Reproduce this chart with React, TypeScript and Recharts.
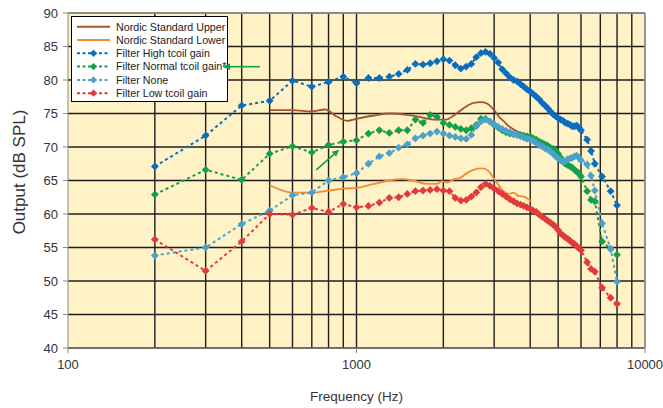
import React from "react";
import {
  LineChart,
  Line,
  XAxis,
  YAxis,
  CartesianGrid,
  ReferenceLine,
  Legend,
  Label,
} from "recharts";

// Measured curves share one frequency list (Hz)
const FREQS = [
  200, 300, 400, 500, 600, 700, 800, 900,
  1000, 1100, 1200, 1300, 1400, 1500, 1600, 1700, 1800, 1900,
  2000, 2100, 2200, 2300, 2400, 2500, 2600, 2700, 2800, 2900,
  3000, 3100, 3200, 3300, 3400, 3500, 3600, 3700, 3800, 3900,
  4000, 4100, 4200, 4300, 4400, 4500, 4600, 4700, 4800, 4900,
  5000, 5100, 5200, 5300, 5400, 5500, 5600, 5700, 5800, 5900,
  6000, 6300, 6500, 6700, 7100, 7600, 8000,
];

const HIGH = [
  67.1, 71.7, 76.2, 76.9, 79.9, 79.0, 79.7, 80.5,
  79.5, 80.3, 80.3, 80.5, 80.9, 81.5, 82.4, 82.3, 82.5, 82.8,
  83.1, 82.9, 82.2, 81.7, 82.0, 82.4, 83.4, 84.0, 84.2, 83.9,
  83.3, 82.6, 81.6, 81.0, 80.4, 80.0, 79.8, 79.4, 79.0, 78.6,
  78.3, 77.9, 77.5, 77.1, 76.6, 76.2, 75.8, 75.3, 74.9, 74.6,
  74.3, 74.1, 73.9, 73.6, 73.5, 73.3, 73.1, 73.1, 73.2, 72.9,
  72.5, 71.1, 69.4, 67.5, 65.6, 63.4, 61.3,
];

const NORMAL = [
  62.9, 66.6, 65.1, 69.0, 70.1, 69.2, 70.3, 70.8,
  71.0, 72.0, 72.5, 72.1, 72.5, 72.5, 74.1, 73.6, 74.8, 74.5,
  73.6, 73.3, 73.0, 72.7, 72.5, 72.8, 73.3, 74.2, 74.2, 73.8,
  73.3, 72.9, 72.5, 72.2, 72.0, 71.9, 71.8, 71.8, 71.7, 71.6,
  71.6, 71.3, 71.1, 70.8, 70.6, 70.4, 70.2, 69.9, 69.7, 69.4,
  69.0, 68.4, 67.8, 67.5, 67.3, 67.1, 66.9, 66.6, 66.3, 66.1,
  65.6, 63.4, 62.1, 61.9, 55.9, 54.8, 53.9,
];

const NONE = [
  53.8, 55.0, 58.5, 60.5, 62.8, 63.2, 65.0, 65.5,
  66.1, 67.5, 68.6, 69.1, 69.9, 70.4, 71.3, 71.7, 72.0, 72.3,
  72.0, 71.7, 71.5, 71.3, 71.2, 71.8, 73.1, 73.8, 74.1, 73.8,
  73.4, 73.0, 72.7, 72.4, 72.2, 72.0, 71.8, 71.6, 71.4, 71.2,
  71.1, 70.9, 70.6, 70.3, 70.1, 69.8, 69.6, 69.3, 69.0, 68.6,
  68.3, 68.0, 67.8, 67.9, 68.2, 68.3, 68.4, 68.6, 68.7, 68.4,
  68.0, 67.4, 65.7, 63.5, 58.6, 54.8, 49.9,
];

const LOW = [
  56.2, 51.5, 55.9, 60.0, 59.9, 60.9, 60.3, 61.5,
  61.0, 61.2, 61.7, 62.4, 62.5, 63.0, 63.4, 63.5, 63.6, 63.7,
  63.5, 63.4, 62.4, 62.0, 62.1, 62.6, 63.2, 64.0, 64.5, 64.2,
  63.8, 63.4, 63.0, 62.6, 62.2, 61.9, 61.6, 61.4, 61.2, 61.0,
  60.8, 60.5, 60.3, 59.9, 59.6, 59.3, 59.0, 58.7, 58.4, 58.1,
  57.6, 57.1, 56.8, 56.5, 56.3, 56.0, 55.7, 55.5, 55.2, 54.9,
  54.6, 52.8, 51.8, 51.4, 49.0, 47.5, 46.6,
];

// Nordic standard limits
const UPPER_FREQS = [
  500, 600, 700, 780, 850, 930, 1000, 1150, 1300, 1500, 1650, 1850, 2050,
  2175, 2350, 2550, 2700, 2830, 3000, 3150, 3250, 3330, 3450, 3700, 4000,
];
const UPPER = [
  75.5, 75.5, 75.3, 75.6, 74.6, 73.9, 74.2, 74.7, 75.0, 74.8, 74.5, 74.1, 74.1,
  74.7, 75.8, 76.6, 76.7, 76.5, 75.5, 74.3, 73.8, 73.3, 72.8, 72.1, 71.6,
];

const LOWER_FREQS = [
  500, 600, 700, 800, 900, 1000, 1150, 1300, 1420, 1570, 1750, 1900, 1980,
  2060, 2180, 2290, 2410, 2540, 2730, 2870, 2980, 3100, 3230, 3370, 3500,
  3640, 3800, 4030,
];
const LOWER = [
  64.3, 63.2, 63.2, 63.5, 63.8, 63.9, 64.5, 65.0, 65.2, 65.0, 64.5, 64.5, 64.9,
  64.7, 65.2, 65.4, 66.1, 66.6, 66.8, 66.4, 65.4, 64.4, 63.4, 63.0, 63.2,
  62.7, 62.6, 61.9,
];

const X_TICKS = [100, 1000, 10000];
const Y_TICKS = [40, 45, 50, 55, 60, 65, 70, 75, 80, 85, 90];
const GRID_FREQS = [
  200, 300, 400, 500, 600, 700, 800, 900, 1000,
  2000, 3000, 4000, 5000, 6000, 7000, 8000, 9000,
];

const FONT = "'Liberation Sans', Arial, sans-serif";
const GRID = "#1e1e1e";
const GRID_W = 1.4;

interface SeriesDef {
  name: string;
  color: string;
  freqs: number[];
  values: number[];
  markers: boolean;
}

const SERIES: SeriesDef[] = [
  { name: "Nordic Standard Upper", color: "#A5532F", freqs: UPPER_FREQS, values: UPPER, markers: false },
  { name: "Nordic Standard Lower", color: "#F48A32", freqs: LOWER_FREQS, values: LOWER, markers: false },
  { name: "Filter High tcoil gain", color: "#0A6EC0", freqs: FREQS, values: HIGH, markers: true },
  { name: "Filter Normal tcoil gain*", color: "#12A04A", freqs: FREQS, values: NORMAL, markers: true },
  { name: "Filter None", color: "#4AA2CC", freqs: FREQS, values: NONE, markers: true },
  { name: "Filter Low tcoil gain", color: "#E2393B", freqs: FREQS, values: LOW, markers: true },
];

const ARROW_GREEN = "#12A04A";

const toRows = (freqs: number[], values: number[]) =>
  freqs.map((freq, i) => ({ freq, value: values[i] }));

const diamondPath = (cx: number, cy: number, r: number) =>
  `M${cx},${cy - r}L${cx + r},${cy}L${cx},${cy + r}L${cx - r},${cy}Z`;

const makeDot = (color: string) => (props: any) => {
  const { cx, cy, index } = props;
  if (cx == null || cy == null) return <g key={`d-${index}`} />;
  return <path key={`d-${index}`} d={diamondPath(cx, cy, 3.9)} fill={color} />;
};

function LegendBox() {
  return (
    <svg width={157} height={86} style={{ overflow: "visible", display: "block" }}>
      <rect x={0.5} y={0.5} width={156} height={85} fill="#fff" stroke="#000" />
      {SERIES.map((s, i) => {
        const y = 10.7 + i * 13.3;
        return (
          <g key={s.name}>
            <line
              x1={6}
              x2={39}
              y1={y}
              y2={y}
              stroke={s.color}
              strokeWidth={2}
              strokeDasharray={s.markers ? "3 2.5" : undefined}
            />
            {s.markers && <path d={diamondPath(22.5, y, 3.6)} fill={s.color} />}
            <text x={45} y={y + 3.8} fontSize={10.7} fontFamily={FONT} fill="#222">
              {s.name}
            </text>
          </g>
        );
      })}
      <line x1={189} y1={50.7} x2={158} y2={50.7} stroke={ARROW_GREEN} strokeWidth={1.6} />
      <polygon points="151,50.7 159,47.4 159,54" fill={ARROW_GREEN} />
    </svg>
  );
}

const PlotArrow = (props: any) => {
  const { x1, y1, x2, y2 } = props;
  if (x1 == null) return <g />;
  const ang = Math.atan2(y2 - y1, x2 - x1);
  const len = 7;
  const w = 3.3;
  const bx = x2 - len * Math.cos(ang);
  const by = y2 - len * Math.sin(ang);
  const px = -Math.sin(ang) * w;
  const py = Math.cos(ang) * w;
  return (
    <g>
      <line x1={x1} y1={y1} x2={bx} y2={by} stroke={ARROW_GREEN} strokeWidth={1.6} />
      <polygon
        points={`${x2},${y2} ${bx + px},${by + py} ${bx - px},${by - py}`}
        fill={ARROW_GREEN}
      />
    </g>
  );
};

export default function App() {
  return (
    <div style={{ position: "absolute", left: 0, top: 0, width: 663, height: 408, background: "#fff" }}>
      <LineChart
        width={663}
        height={408}
        margin={{ top: 13, right: 18, bottom: 0, left: 0 }}
      >
        <CartesianGrid
          vertical={false}
          stroke={GRID}
          strokeWidth={GRID_W}
          fill="#FFF2C6"
          fillOpacity={1}
        />
        {GRID_FREQS.map((f) => (
          <ReferenceLine key={f} x={f} stroke={GRID} strokeWidth={GRID_W} />
        ))}
        <ReferenceLine y={90} stroke="#8a8a8a" strokeWidth={1.8} />
        <ReferenceLine x={10000} stroke="#8a8a8a" strokeWidth={1.8} />
        <XAxis
          dataKey="freq"
          type="number"
          scale="log"
          domain={[100, 10000]}
          ticks={X_TICKS}
          allowDataOverflow
          height={60}
          stroke="#8a8a8a"
          tickSize={5}
          tickMargin={7}
          tick={{ fill: "#333", fontSize: 13, fontFamily: FONT }}
        >
          <Label
            value="Frequency (Hz)"
            position="insideBottom"
            offset={7}
            style={{ fill: "#333", fontSize: 13.5, fontFamily: FONT }}
          />
        </XAxis>
        <YAxis
          type="number"
          domain={[40, 90]}
          ticks={Y_TICKS}
          allowDataOverflow
          width={68}
          stroke="#8a8a8a"
          tickSize={5}
          tickMargin={5}
          tick={{ fill: "#333", fontSize: 13, fontFamily: FONT }}
        >
          <Label
            content={() => {
              const cx = 25;
              const cy = 172;
              return (
                <text
                  x={cx}
                  y={cy}
                  transform={`rotate(-90, ${cx}, ${cy})`}
                  textAnchor="middle"
                  fontSize={17}
                  fontFamily={FONT}
                  fill="#333"
                >
                  Output (dB SPL)
                </text>
              );
            }}
          />
        </YAxis>
        <ReferenceLine
          segment={[
            { x: 725, y: 66.6 },
            { x: 871, y: 69.6 },
          ]}
          shape={<PlotArrow />}
        />
        {SERIES.map((s) => (
          <Line
            key={s.name}
            name={s.name}
            data={toRows(s.freqs, s.values)}
            dataKey="value"
            type={s.markers ? "linear" : "monotone"}
            stroke={s.color}
            strokeWidth={s.markers ? 2 : 1.8}
            strokeDasharray={s.markers ? "3 3" : undefined}
            dot={s.markers ? makeDot(s.color) : false}
            activeDot={false}
            isAnimationActive={false}
          />
        ))}
        <Legend
          layout="horizontal"
          verticalAlign="middle"
          align="center"
          content={() => <LegendBox />}
          wrapperStyle={{ left: 71, top: 16, width: 157, height: 86 }}
        />
      </LineChart>
    </div>
  );
}
